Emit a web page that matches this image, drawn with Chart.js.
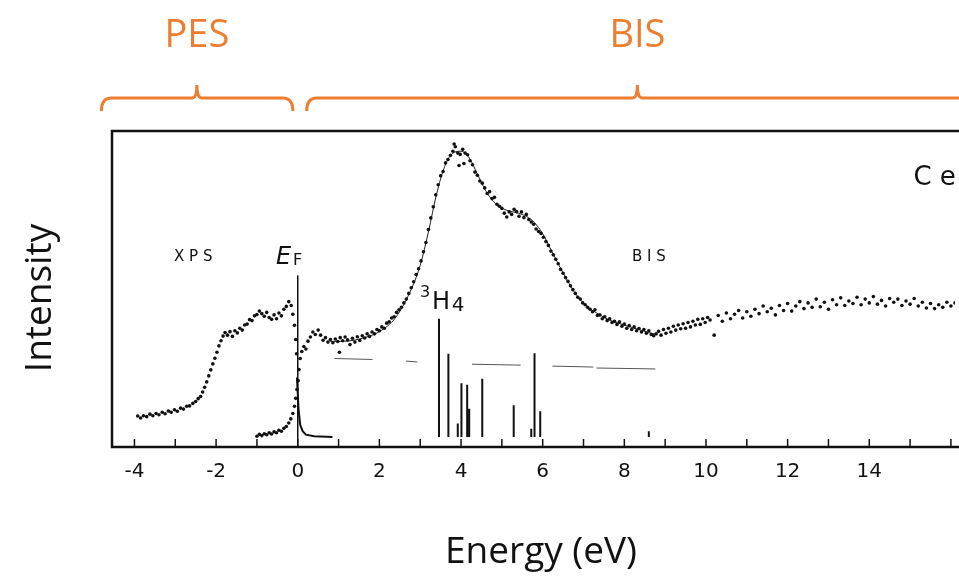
<!DOCTYPE html>
<html>
<head>
<meta charset="utf-8">
<script src="https://cdn.jsdelivr.net/npm/chart.js@4.4.0/dist/chart.umd.min.js"></script>
<style>
body { margin: 0; background: #ffffff; }
#wrap { width: 959px; height: 580px; }
</style>
</head>
<body>
<div id="wrap"><canvas id="spectrum" width="959" height="580"></canvas></div>
<script>
// XPS (occupied states, below EF)
var xpsX = [-3.92,-3.85,-3.78,-3.70,-3.62,-3.55,-3.47,-3.40,-3.32,-3.25,-3.17,-3.10,-3.02,-2.95,-2.87,-2.80,-2.72,-2.65,-2.57,-2.50,
	-2.44,-2.38,-2.33,-2.28,-2.23,-2.18,-2.13,-2.08,-2.03,-1.98,-1.93,-1.88,-1.83,-1.78,-1.72,-1.66,-1.60,-1.54,-1.48,-1.42,
	-1.36,-1.30,-1.24,-1.18,-1.12,-1.06,-1.00,-0.94,-0.88,-0.82,-0.76,-0.70,-0.64,-0.58,-0.52,-0.46,-0.40,-0.34,-0.28,-0.22,
	-0.16,-0.12,-0.08,-0.05,-0.03]
var xpsY = [9.8,9.2,9.9,9.6,10.4,9.9,10.6,10.2,11.0,10.5,11.4,11.0,11.8,11.3,12.3,12.0,12.9,13.0,13.8,14.4,
	15.3,16.0,17.4,18.9,20.6,22.5,24.4,26.3,28.1,30.0,32.0,33.6,35.1,36.2,35.4,36.5,35.0,36.8,36.1,37.6,
	37.0,38.6,38.9,40.3,40.0,41.5,41.9,43.0,42.2,41.4,42.6,41.0,40.4,41.8,40.6,42.4,41.5,43.6,44.5,46.0,
	44.8,42.0,38.5,34.0,29.5]
var tailX = [-0.02, 0.02, 0.06, 0.12, 0.2, 0.4, 0.85]
var tailY = [22.0, 12.0, 7.0, 5.0, 3.9, 3.4, 3.2]

// BIS (unoccupied states, above EF)
var bisX = [-1.00,-0.94,-0.88,-0.82,-0.76,-0.70,-0.64,-0.58,-0.52,-0.46,-0.40,-0.34,-0.28,-0.22,-0.17,-0.12,-0.08,-0.05,-0.02,0.01,
	0.03,0.06,0.10,0.15,0.20,0.25,0.31,0.37,0.43,0.50,0.56,0.62,0.68,0.74,0.80,0.86,0.92,0.98,1.02,1.04,
	1.10,1.16,1.22,1.28,1.34,1.40,1.46,1.52,1.58,1.64,1.70,1.76,1.82,1.88,1.94,2.00,2.06,2.12,2.18,2.24,
	2.30,2.36,2.42,2.48,2.54,2.60,2.66,2.72,2.78,2.84,2.90,2.96,3.02,3.08,3.14,3.20,3.26,3.32,3.38,3.44,
	3.50,3.56,3.62,3.68,3.74,3.80,3.83,3.86,3.92,3.95,3.98,4.04,4.07,4.10,4.16,4.22,4.28,4.34,4.40,4.46,
	4.52,4.58,4.64,4.70,4.76,4.82,4.88,4.94,5.00,5.06,5.12,5.18,5.24,5.30,5.36,5.42,5.48,5.54,5.60,5.66,
	5.72,5.78,5.84,5.90,5.96,6.02,6.08,6.14,6.20,6.26,6.32,6.38,6.44,6.50,6.56,6.62,6.68,6.74,6.80,6.86,
	6.92,6.98,7.04,7.10,7.16,7.22,7.28,7.34,7.40,7.46,7.52,7.58,7.64,7.70,7.76,7.82,7.88,7.94,8.00,8.06,
	8.12,8.18,8.24,8.30,8.36,8.42,8.48,8.54,8.60,8.66,8.72,8.78,8.84,8.90,8.96,9.02,9.08,9.14,9.20,9.26,
	9.32,9.38,9.44,9.50,9.56,9.62,9.68,9.74,9.80,9.86,9.92,9.98,10.04,10.10,10.20,10.30,10.40,10.50,10.60,10.70,
	10.80,10.90,11.00,11.10,11.20,11.30,11.40,11.50,11.60,11.70,11.80,11.90,12.00,12.10,12.20,12.30,12.40,12.50,12.60,12.70,
	12.80,12.90,13.00,13.10,13.20,13.30,13.40,13.50,13.60,13.70,13.80,13.90,14.00,14.10,14.20,14.30,14.40,14.50,14.60,14.70,
	14.80,14.90,15.00,15.10,15.20,15.30,15.40,15.50,15.60,15.70,15.80,15.90,16.00,16.10]
var bisY = [3.4,4.0,3.6,4.2,3.9,4.5,4.1,4.8,4.5,5.3,5.0,5.9,6.5,7.6,8.9,10.6,12.9,15.4,18.2,21.0,
	24.5,28.0,30.2,31.8,31.0,33.5,34.8,36.4,35.6,37.0,35.4,33.8,34.6,33.2,34.0,33.0,34.2,33.4,30.0,34.6,
	33.6,34.8,33.9,32.4,34.4,33.2,34.9,33.7,35.2,34.5,35.8,35.0,36.4,35.8,37.2,36.8,38.0,37.6,39.2,39.6,
	40.8,41.2,42.6,43.4,44.2,45.6,46.8,48.6,50.4,52.3,54.6,56.4,58.9,61.8,64.7,68.8,72.5,76.0,79.8,83.0,
	85.8,87.2,89.9,91.0,92.3,93.6,95.9,95.0,93.0,89.1,92.6,94.2,89.7,93.0,92.5,90.6,89.3,87.0,86.0,84.2,
	83.5,82.0,80.2,80.8,78.6,79.0,76.8,76.2,75.5,74.0,72.8,74.4,73.6,75.2,74.5,73.0,74.4,72.6,73.6,72.0,
	71.2,70.5,69.0,68.2,67.6,66.4,65.0,63.8,62.0,60.8,59.4,58.0,56.2,55.0,53.6,52.4,51.0,49.8,48.6,47.4,
	46.8,45.6,45.0,44.2,43.6,42.8,43.4,41.6,41.8,40.6,41.2,40.0,40.6,39.4,39.8,38.8,39.6,38.2,38.9,37.6,
	38.4,37.2,38.0,36.8,37.5,36.4,37.2,36.0,36.8,35.6,35.2,35.8,36.6,35.4,37.2,36.0,37.6,36.4,38.2,37.0,
	38.6,37.4,39.0,37.6,39.4,38.0,39.8,38.6,40.4,38.8,40.6,39.4,41.0,40.2,35.4,41.6,39.8,42.4,40.6,42.0,
	43.2,40.8,42.8,41.4,43.6,42.2,44.6,42.8,43.9,41.8,44.8,43.2,45.4,43.0,44.6,46.0,43.8,45.6,44.2,46.8,
	44.4,45.8,43.6,46.6,45.0,47.2,44.8,46.2,45.4,47.4,45.0,46.8,45.6,47.6,45.2,46.4,44.6,47.0,45.8,46.8,
	44.8,46.2,45.2,47.0,44.6,45.8,44.0,45.4,43.8,45.0,44.2,45.8,44.6,45.6]

// smooth fit through the BIS data
var fitX = [0.8,1.2,1.6,2.0,2.4,2.8,3.0,3.2,3.4,3.6,3.8,4.0,4.2,4.4,4.6,4.8,5.0,5.2,5.4,5.6,5.8,6.0,6.2,6.4,6.6,6.8,7.0,7.2,7.4,7.6,7.8,8.0,8.2,8.4,8.6,8.8]
var fitY = [33.4,33.5,34.5,36.5,41.0,50.5,57.5,68.0,80.0,88.8,93.0,93.6,91.5,86.4,81.2,77.6,75.6,74.6,74.0,73.0,71.0,67.5,62.5,57.5,52.8,48.6,45.6,43.4,41.8,40.4,39.4,38.6,37.8,37.0,36.2,35.6]

// 3H4 final state multiplet lines
var lineX = [3.46,3.69,3.92,4.01,4.15,4.20,4.52,5.29,5.72,5.80,5.94,8.60]
var lineTop = [40.6,29.5,7.4,20.2,19.7,12.1,21.6,13.2,5.8,29.7,11.3,5.0]
var lineBase = 3.2

// faint horizontal reference segments
var segStart = [0.90,2.65,4.27,6.24,7.32]
var segEnd = [1.83,2.93,5.46,7.24,8.76]
var segY = [28.0,27.2,26.2,25.6,25.0]

var efTop = 54.3
var orange = '#ED7D31'

window.onload = function()
{
	var xpsPts = xpsX.map(function(x, i){ return {x: x, y: xpsY[i]} })
	var tailPts = tailX.map(function(x, i){ return {x: x, y: tailY[i]} })
	var bisPts = bisX.map(function(x, i){ return {x: x, y: bisY[i]} })
	var fitPts = fitX.map(function(x, i){ return {x: x, y: fitY[i]} })

	var linePts = []
	for(var i = 0; i < lineX.length; i++)
	{
		linePts.push({x: lineX[i], y: lineBase})
		linePts.push({x: lineX[i], y: lineTop[i]})
		linePts.push({x: lineX[i], y: null})
	}
	var segPts = []
	for(var j = 0; j < segStart.length; j++)
	{
		segPts.push({x: segStart[j], y: segY[j]})
		segPts.push({x: segEnd[j], y: segY[j] - 0.3})
		segPts.push({x: segEnd[j], y: null})
	}

	var decor = {
		id: 'decor',
		afterDraw: function(chart)
		{
			var c = chart.ctx
			var a = chart.chartArea
			var xs = chart.scales.x
			var ys = chart.scales.y
			c.save()

			// frame
			c.strokeStyle = '#111'
			c.lineWidth = 2.5
			c.beginPath()
			c.moveTo(a.right + 5, a.top)
			c.lineTo(a.left, a.top)
			c.lineTo(a.left, a.bottom)
			c.lineTo(a.right + 5, a.bottom)
			c.stroke()

			// inward ticks every 1 eV
			c.lineWidth = 1.5
			xs.ticks.forEach(function(t)
			{
				if(!Number.isInteger(t.value)) return
				var px = xs.getPixelForValue(t.value)
				c.beginPath()
				c.moveTo(px, a.bottom)
				c.lineTo(px, a.bottom - 8)
				c.stroke()
			})

			// in-plot labels
			c.fillStyle = '#111'
			c.textAlign = 'center'
			c.textBaseline = 'middle'
			c.font = '15px "DejaVu Sans"'
			c.fillText('X P S', xs.getPixelForValue(-2.56), ys.getPixelForValue(60))
			c.fillText('B I S', xs.getPixelForValue(8.6), ys.getPixelForValue(60))
			c.font = 'italic 24px "DejaVu Sans"'
			var efx = xs.getPixelForValue(-0.2)
			c.fillText('E', efx - 6, ys.getPixelForValue(60))
			c.font = '16px "DejaVu Sans"'
			c.fillText('F', efx + 8, ys.getPixelForValue(59))
			var hx = xs.getPixelForValue(3.46)
			var hy = ys.getPixelForValue(46.4)
			c.font = '16px "DejaVu Sans"'
			c.fillText('3', hx - 14, hy - 8)
			c.font = '24px "DejaVu Sans"'
			c.fillText('H', hx + 2, hy + 2)
			c.font = '20px "DejaVu Sans"'
			c.fillText('4', hx + 19, hy + 5)
			c.font = '26px "DejaVu Sans"'
			c.fillText('C e', xs.getPixelForValue(15.6), ys.getPixelForValue(85.2))

			// axis titles
			c.font = '37px "Open Sans"'
			c.fillText('Energy (eV)', 541, 552)
			c.save()
			c.translate(40, 298)
			c.rotate(-Math.PI / 2)
			c.fillText('Intensity', 0, 0)
			c.restore()

			// PES / BIS brackets
			c.strokeStyle = orange
			c.fillStyle = orange
			c.lineWidth = 3
			function bracket(v1, v2, vt)
			{
				var x1 = xs.getPixelForValue(v1)
				var x2 = Math.min(xs.getPixelForValue(v2), chart.width + 20)
				var xt = xs.getPixelForValue(vt)
				var y = 98, yEnd = 111, yTip = 85
				c.beginPath()
				c.moveTo(x1, yEnd)
				c.quadraticCurveTo(x1, y, x1 + 10, y)
				c.lineTo(xt - 5, y)
				c.quadraticCurveTo(xt, y, xt, yTip)
				c.moveTo(xt, yTip)
				c.quadraticCurveTo(xt, y, xt + 5, y)
				c.lineTo(x2 - 10, y)
				c.quadraticCurveTo(x2, y, x2, yEnd)
				c.stroke()
			}
			bracket(-4.81, -0.12, -2.47)
			bracket(0.22, 16.9, 8.32)
			c.font = '38px "Open Sans"'
			c.fillText('PES', xs.getPixelForValue(-2.47), 36)
			c.fillText('BIS', xs.getPixelForValue(8.32), 36)
			c.restore()
		}
	}

	var ctx = document.getElementById('spectrum')
	var chart = new Chart(ctx, {
		type: 'scatter',
		data: {
			datasets: [
				{
					label: 'XPS',
					data: xpsPts,
					pointRadius: 1.8,
					pointBackgroundColor: '#111',
					pointBorderWidth: 0,
					showLine: false
				},
				{
					label: 'XPS tail',
					data: tailPts,
					pointRadius: 0,
					borderColor: '#111',
					borderWidth: 2,
					showLine: true
				},
				{
					label: 'BIS',
					data: bisPts,
					pointRadius: 1.8,
					pointBackgroundColor: '#111',
					pointBorderWidth: 0,
					showLine: false
				},
				{
					label: 'fit',
					data: fitPts,
					pointRadius: 0,
					borderColor: '#222',
					borderWidth: 1,
					cubicInterpolationMode: 'monotone',
					showLine: true
				},
				{
					label: 'EF',
					data: [{x: 0, y: 0}, {x: 0, y: efTop}],
					pointRadius: 0,
					borderColor: '#111',
					borderWidth: 1.5,
					showLine: true
				},
				{
					label: '3H4',
					data: linePts,
					pointRadius: 0,
					borderColor: '#111',
					borderWidth: 2,
					spanGaps: false,
					showLine: true
				},
				{
					label: 'ref',
					data: segPts,
					pointRadius: 0,
					borderColor: '#555',
					borderWidth: 1,
					spanGaps: false,
					showLine: true
				}
			]
		},
		options: {
			responsive: false,
			animation: false,
			devicePixelRatio: 1,
			layout: {
				padding: {left: 112, top: 131, right: 0, bottom: 0}
			},
			plugins: {
				legend: {display: false},
				tooltip: {enabled: false}
			},
			scales: {
				x: {
					type: 'linear',
					min: -4.55,
					max: 16.1,
					grid: {display: false, drawTicks: false},
					border: {display: false},
					afterFit: function(s){ s.height = 133; s.paddingRight = 0 },
					ticks: {
						stepSize: 1,
						includeBounds: false,
						autoSkip: false,
						maxRotation: 0,
						padding: 13,
						color: '#111',
						font: {family: '"DejaVu Sans"', size: 20},
						callback: function(v)
						{
							return (Number.isInteger(v) && v % 2 === 0 && v < 15) ? String(v) : ''
						}
					}
				},
				y: {
					display: false,
					min: 0,
					max: 100
				}
			}
		},
		plugins: [decor]
	})
}
</script>
</body>
</html>
